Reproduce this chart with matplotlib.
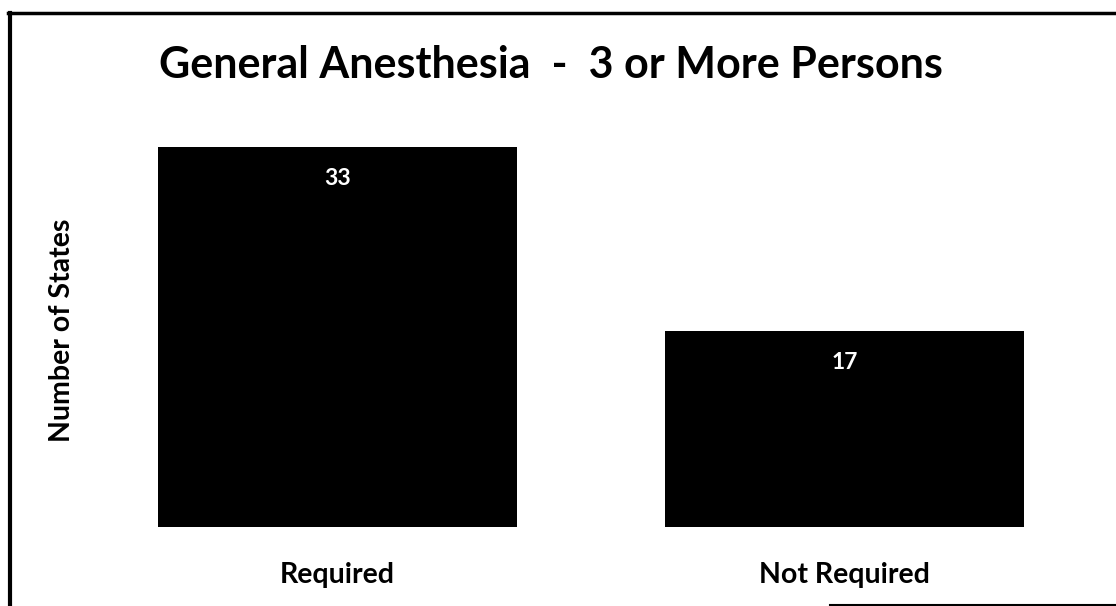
import matplotlib
matplotlib.use('Agg')
import matplotlib.pyplot as plt
from matplotlib.lines import Line2D

plt.rcParams['font.family'] = ['Lato', 'DejaVu Sans']

# data
categories = ['Required', 'Not Required']
states = [33, 17]
title = 'General Anesthesia  -  3 or More Persons'
ylabel = 'Number of States'

fig = plt.figure(figsize=(11.16, 6.06), dpi=100)
ax = fig.add_axes([84 / 1116, 79 / 606, 1014 / 1116, 403 / 606])

bars = ax.bar(range(len(categories)), states, width=0.708, color='black')
ax.set_xlim(-0.5, 1.5)
ax.set_ylim(0, 35)

for b, v in zip(bars, states):
    ax.annotate(str(v), (b.get_x() + b.get_width() / 2, v),
                xytext=(0, -15), textcoords='offset points',
                ha='center', va='top', color='white',
                fontsize=16.5, fontweight='bold')

ax.set_xticks(range(len(categories)))
ax.set_xticklabels(categories, fontsize=20.5, fontweight='bold')
ax.tick_params(axis='x', length=0, pad=25)
ax.set_yticks([])
for s in ax.spines.values():
    s.set_visible(False)

fig.text(62 / 1116, 1 - 330 / 606, ylabel, rotation=90, ha='center', va='center',
         fontsize=20.5, fontweight='bold')
fig.text(551 / 1116, 1 - 65 / 606, title, ha='center', va='center',
         fontsize=31, fontweight='bold')

# frame of the scanned slide
fig.add_artist(Line2D([9.5 / 1116, 9.5 / 1116], [0, 1 - 13 / 606], color='black', lw=3))
fig.add_artist(Line2D([8 / 1116, 1], [1 - 13 / 606, 1 - 13 / 606], color='black', lw=2.5))
fig.add_artist(Line2D([830 / 1116, 1], [1 / 606, 1 / 606], color='black', lw=1.5))

fig.savefig('out.png', dpi=100)
